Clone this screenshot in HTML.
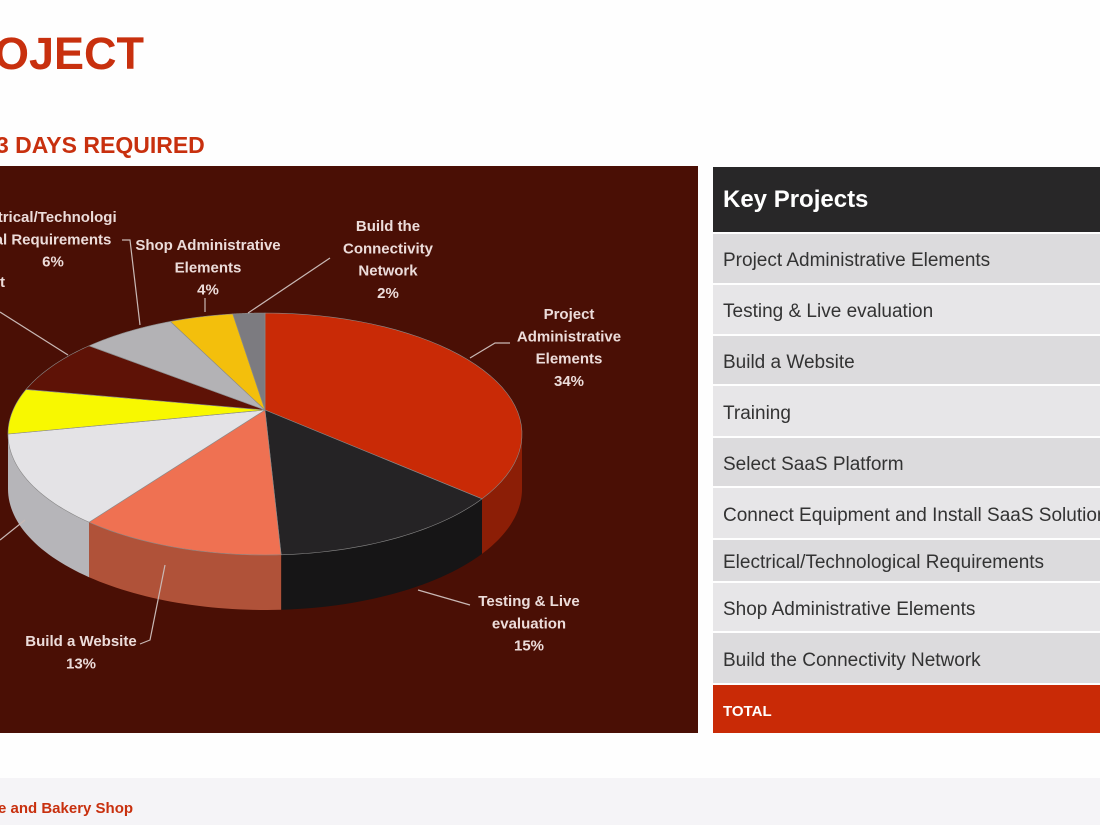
<!DOCTYPE html>
<html><head><meta charset="utf-8">
<style>
body{margin:0;width:1100px;height:825px;overflow:hidden;background:#fefefe;font-family:"Liberation Sans",sans-serif;position:relative}
.abs{position:absolute}
.row{position:absolute;left:713px;width:400px;font-size:19px;color:#333;padding-left:10px;padding-top:5px;box-sizing:border-box;display:flex;align-items:center}
</style></head><body>
<div class="abs" style="left:-6px;top:28px;font-size:45px;font-weight:bold;color:#c8300e">OJECT</div>
<div class="abs" style="left:-4px;top:132px;font-size:23px;font-weight:bold;color:#c8300e">3 DAYS REQUIRED</div>
<div class="abs" style="left:0;top:166px;width:698px;height:567px;background:#4a0f05"></div>
<svg class="abs" id="pie" style="left:0;top:0" width="700" height="740"></svg>
<div class="abs" style="left:713px;top:167px;width:400px;height:65px;background:#282728;color:#fff;font-size:24px;font-weight:bold;display:flex;align-items:center;padding-left:10px;box-sizing:border-box">Key Projects</div>
<div id="rows"></div>
<div class="abs" style="left:0;top:778px;width:1100px;height:47px;background:#f5f4f7"></div>
<div class="abs" style="left:-2px;top:800px;font-size:15px;font-weight:bold;color:#c8300e">e and Bakery Shop</div>
<script>
const categories=["Project Administrative Elements","Testing & Live evaluation","Build a Website","Training","Select SaaS Platform","Connect Equipment and Install SaaS Solution","Electrical/Technological Requirements","Shop Administrative Elements","Build the Connectivity Network"];
const values=[34,15,13,13,6,7,6,4,2];
const colors=["#c92a06","#252325","#ef7152","#e4e3e6","#f8f800","#5e1206","#b3b2b5","#f3bf0c","#7c7b80"];
const wallColors=["#8c1e06","#161516","#b05239","#b6b5b9","#b8b800","#3e0c04","#858487","#b88e08","#58575b"];
const NS="http://www.w3.org/2000/svg";
const svg=document.getElementById('pie');
const cx=265,cy=434,rx=257,ry=121,ax=265,ay=410,depth=55;
const total=values.reduce((a,b)=>a+b,0);
function pt(a){return [cx+rx*Math.cos(a),cy+ry*Math.sin(a)];}
let start=-Math.PI/2;
const slices=values.map(v=>{const s=start;const e=s+v/total*2*Math.PI;start=e;return [s,e];});
slices.forEach(([s,e],i)=>{
  const a0=Math.max(s,0),a1=Math.min(e,Math.PI);
  const segs=[[a0,a1]];
  if(e>2*Math.PI){segs.push([Math.max(s,2*Math.PI),Math.min(e,3*Math.PI)]);}
  segs.forEach(([b0,b1])=>{
    if(b1<=b0)return;
    let d="";const n=30;
    for(let k=0;k<=n;k++){const p=pt(b0+(b1-b0)*k/n);d+=(k?"L":"M")+p[0]+","+p[1];}
    for(let k=n;k>=0;k--){const p=pt(b0+(b1-b0)*k/n);d+="L"+p[0]+","+(p[1]+depth);}
    const path=document.createElementNS(NS,'path');
    path.setAttribute('d',d+"Z");path.setAttribute('fill',wallColors[i]);
    
    
    svg.appendChild(path);
  });
});
slices.forEach(([s,e],i)=>{
  let d="M"+ax+","+ay;const n=40;
  for(let k=0;k<=n;k++){const p=pt(s+(e-s)*k/n);d+="L"+p[0]+","+p[1];}
  const path=document.createElementNS(NS,'path');
  path.setAttribute('d',d+"Z");path.setAttribute('fill',colors[i]);
  path.setAttribute('stroke','#8a8a8a');path.setAttribute('stroke-width','0.6');
  
  
  svg.appendChild(path);
});
const leaders=["M470,358L495,343L510,343","M418,590L470,605","M165,565L150,640L140,644","M248,313L330,258","M205,312L205,298","M140,325L130,240L122,240","M68,355L0,312","M25,520L0,540"];
leaders.forEach(d=>{const l=document.createElementNS(NS,'path');l.setAttribute('d',d);l.setAttribute('stroke','#c9b8b5');l.setAttribute('fill','none');l.setAttribute('stroke-width','1.2');


svg.appendChild(l);});
const labels=[[569,314,["Project","Administrative","Elements"],0],[529,601,["Testing & Live","evaluation"],1],[81,641,["Build a Website"],2],[388,226,["Build the","Connectivity","Network"],8],[208,245,["Shop Administrative","Elements"],7],[53,217,["ctrical/Technologi","al Requirements"],6]];
labels.forEach(([x,y,lines,i])=>{
  const t=document.createElementNS(NS,'text');
  t.setAttribute('text-anchor','middle');t.setAttribute('font-size','15');t.setAttribute('font-weight','bold');t.setAttribute('fill','#ecdcda');
  t.setAttribute('font-family','Liberation Sans, sans-serif');
  
  
  lines.concat([Math.round(values[i]/total*100)+"%"]).forEach((ln,k)=>{const ts=document.createElementNS(NS,'tspan');ts.setAttribute('x',x);ts.setAttribute('y',y+5+k*22.3);ts.textContent=ln;t.appendChild(ts);});
  svg.appendChild(t);
});
const t2=document.createElementNS(NS,'text');t2.setAttribute('x',0);t2.setAttribute('y',287);t2.setAttribute('font-size','15');t2.setAttribute('font-weight','bold');t2.setAttribute('fill','#ecdcda');t2.textContent="t";


svg.appendChild(t2);
const rowTops=[234,285,336,386,438,488,540,583,633];
const rowH=[49,49,48,50,48,50,41,48,50];
const rows=document.getElementById('rows');
categories.forEach((c,i)=>{const r=document.createElement('div');r.className='row';r.style.top=rowTops[i]+'px';r.style.height=rowH[i]+'px';r.style.background=i%2?'#e7e6e8':'#dcdbdd';r.textContent=c;


rows.appendChild(r);});
const tot=document.createElement('div');tot.className='row';tot.style.top='685px';tot.style.height='48px';tot.style.background='#c92a06';tot.style.color='#fff';tot.style.fontSize='15px';tot.style.fontWeight='bold';tot.textContent='TOTAL';


rows.appendChild(tot);
</script>
</body></html>
